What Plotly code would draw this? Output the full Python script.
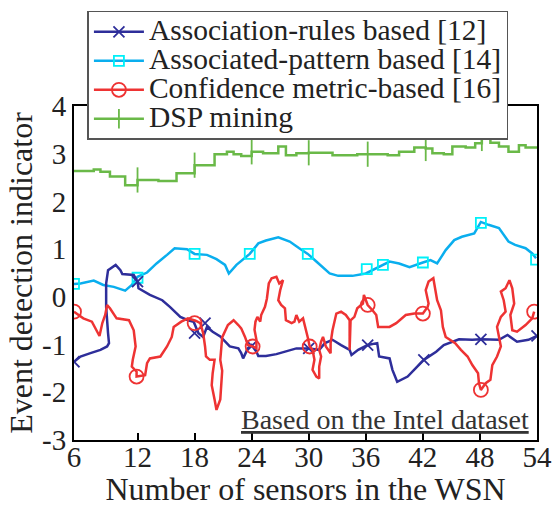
import plotly.graph_objects as go

# ---------------- data ----------------
X_TICK_VALS = [5.32, 12, 18, 24, 30, 36, 42, 48, 54]
X_TICK_TEXT = ["6", "12", "18", "24", "30", "36", "42", "48", "54"]
Y_TICK_VALS = [4, 3, 2, 1, 0, -1, -2, -3]
Y_TICK_TEXT = ["4", "3", "2", "1", "0", "-1", "-2", "-3"]

ASSOC_X = [5.32, 6.0, 7.05, 8.1, 8.8, 9.0, 8.9, 8.7, 8.7, 8.9, 9.7, 10.2, 10.4, 11.6, 12.0, 12.1,
           13.3, 14.6, 15.4, 16.5, 17.3, 17.9, 18.4, 18.9, 19.3, 19.9, 20.7, 21.2, 21.7, 22.6,
           22.9, 23.1, 23.6, 24.0, 24.5, 24.7, 25.5, 26.6, 27.6, 28.7, 30.0, 31.1, 31.7, 32.5,
           33.4, 34.3, 34.5, 35.2, 36.2, 37.2, 37.4, 38.5, 38.8, 39.3, 40.4, 41.1, 42.1, 43.4,
           44.2, 45.8, 47.2, 48.1, 50.0, 50.9, 51.9, 53.1, 54.0]
ASSOC_Y = [-1.36, -1.25, -1.18, -1.11, -1.04, -0.97, -0.76, -0.21, 0.28, 0.56, 0.67, 0.56, 0.48,
           0.46, 0.32, 0.18, 0.04, -0.07, -0.21, -0.42, -0.49, -0.52, -0.76, -0.84, -0.63, -0.73,
           -0.83, -0.94, -1.04, -1.08, -1.18, -1.29, -1.08, -1.01, -1.15, -1.24, -1.24, -1.20,
           -1.15, -1.08, -1.08, -1.11, -0.97, -0.90, -1.01, -1.11, -1.22, -1.11, -1.01, -0.97,
           -1.25, -1.29, -1.53, -1.78, -1.67, -1.53, -1.32, -1.15, -1.01, -0.89, -0.90, -0.89,
           -0.90, -0.80, -0.94, -0.90, -0.82]
ASSOC_MX = [5.32, 12.0, 18.0, 19.1, 24.0, 30.0, 36.2, 42.1, 48.1, 54.0]
ASSOC_MY = [-1.36, 0.32, -0.76, -0.55, -1.03, -1.08, -1.01, -1.32, -0.89, -0.82]

PATTERN_X = [5.32, 6.0, 7.4, 8.4, 9.5, 10.7, 11.4, 12.0, 13.0, 14.0, 15.1, 15.9, 17.2, 18.0, 19.3,
             20.3, 21.2, 21.6, 22.4, 23.3, 23.8, 24.7, 25.5, 26.8, 28.0, 29.0, 29.9, 30.8, 32.2,
             33.1, 34.6, 36.0, 37.8, 38.5, 39.5, 40.6, 42.0, 42.8, 43.5, 44.4, 45.3, 46.1, 47.4,
             48.1, 48.9, 50.0, 51.0, 51.7, 52.8, 53.5, 53.9]
PATTERN_Y = [0.27, 0.28, 0.34, 0.25, 0.21, 0.13, 0.25, 0.42, 0.51, 0.70, 0.88, 1.02, 1.00, 0.90,
             0.88, 0.79, 0.67, 0.49, 0.67, 0.83, 0.90, 1.12, 1.18, 1.25, 1.16, 1.02, 0.90, 0.74,
             0.49, 0.44, 0.44, 0.49, 0.67, 0.74, 0.70, 0.62, 0.72, 0.77, 0.70, 0.98, 1.19, 1.26,
             1.33, 1.57, 1.51, 1.44, 1.16, 1.09, 1.02, 0.91, 0.81]
PATTERN_MX = [5.32, 12.0, 18.0, 23.8, 29.9, 36.1, 37.8, 42.0, 48.1, 53.9]
PATTERN_MY = [0.27, 0.40, 0.90, 0.90, 0.90, 0.58, 0.67, 0.72, 1.55, 0.78]

CONF_X = [5.32, 6.3, 7.2, 7.7, 8.0, 8.3, 8.6, 8.8, 9.1, 9.8, 11.1, 11.6, 11.8, 11.5, 11.4, 11.9,
          11.9, 12.8, 13.0, 13.3, 14.4, 15.1, 15.6, 15.8, 16.6, 17.3, 18.1, 18.6, 18.9, 19.1,
          19.2, 19.6, 20.1, 19.9, 19.8, 20.1, 20.3, 20.7, 20.8, 20.9, 20.7, 20.8, 20.9, 21.5,
          22.1, 22.6, 22.9, 23.3, 23.6, 24.1, 24.5, 24.5, 24.3, 24.4, 24.6, 24.9, 25.0, 25.4,
          25.6, 25.8, 26.1, 26.6, 26.9, 27.3, 27.0, 26.8, 27.1, 27.5, 27.6, 28.2, 28.5, 28.7,
          29.0, 29.4, 29.6, 29.9, 30.1, 30.4, 30.6, 30.4, 30.8, 31.1, 31.1, 31.3, 31.1, 31.3,
          31.5, 31.8, 32.3, 32.3, 32.5, 32.7, 32.9, 33.4, 33.9, 34.3, 34.3, 34.4, 34.8, 35.1,
          35.7, 35.8, 36.2, 36.7, 37.1, 37.3, 38.5, 39.2, 40.2, 41.1, 42.0, 42.5, 42.6, 42.3,
          42.6, 43.1, 43.3, 43.5, 43.9, 44.1, 44.4, 44.9, 45.4, 46.0, 46.7, 47.2, 47.8, 47.9,
          48.1, 48.6, 49.1, 49.3, 49.8, 50.2, 50.0, 49.8, 50.2, 50.7, 50.5, 50.2, 50.7, 51.1,
          51.4, 51.6, 51.2, 51.4, 51.9, 52.8, 53.5, 53.7]
CONF_Y = [-0.31, -0.45, -0.52, -0.73, -0.82, -0.55, -0.38, -0.17, -0.24, -0.45, -0.49, -0.70,
          -1.04, -1.32, -1.46, -1.57, -1.67, -1.64, -1.39, -1.29, -1.25, -1.04, -0.84, -0.63,
          -0.52, -0.45, -0.50, -0.55, -0.76, -1.04, -1.25, -1.32, -1.32, -1.60, -1.85, -2.15,
          -2.37, -2.15, -1.80, -1.55, -1.32, -1.04, -0.85, -0.59, -0.49, -0.59, -0.66, -0.84,
          -1.01, -1.04, -1.08, -0.90, -0.69, -0.52, -0.42, -0.52, -0.38, -0.21, -0.04, 0.28,
          0.39, 0.42, 0.28, 0.35, 0.14, -0.07, -0.17, -0.24, -0.49, -0.55, -0.52, -0.38, -0.52,
          -0.45, -0.60, -0.85, -1.04, -1.11, -1.32, -1.53, -1.67, -1.71, -1.46, -1.25, -1.11,
          -0.94, -0.84, -1.04, -1.18, -0.97, -0.70, -0.49, -0.35, -0.31, -0.38, -0.49, -1.11,
          -0.49, -0.42, -0.24, -0.14, 0.04, -0.17, -0.28, -0.38, -0.63, -0.63, -0.55, -0.38,
          -0.35, -0.35, -0.21, -0.14, 0.14, 0.32, 0.39, 0.14, -0.07, -0.28, -0.63, -0.84, -0.90,
          -0.97, -1.11, -1.25, -1.43, -1.60, -1.81, -1.95, -1.81, -1.74, -1.43, -1.25, -1.04,
          -0.84, -0.63, -0.42, -0.31, -0.07, 0.11, 0.18, 0.35, 0.18, -0.14, -0.38, -0.70, -0.73,
          -0.59, -0.45, -0.31]
CONF_MX = [5.32, 11.9, 18.0, 24.1, 30.1, 36.2, 42.0, 48.1, 53.7]
CONF_MY = [-0.31, -1.67, -0.55, -1.04, -1.04, -0.17, -0.35, -1.95, -0.31]

DSP_X = [5.32, 7.4, 8.1, 9.1, 10.7, 12.0, 14.2, 16.1, 18.0, 20.1, 21.4, 22.1, 22.9, 24.0, 25.2,
         26.8, 27.6, 28.7, 30.0, 30.8, 32.5, 34.3, 35.1, 36.2, 38.3, 39.5, 41.1, 42.3, 43.0,
         44.2, 45.1, 46.5, 47.5, 48.2, 49.1, 50.0, 51.0, 52.1, 52.8, 54.0]
DSP_Y = [2.64, 2.67, 2.62, 2.52, 2.34, 2.45, 2.43, 2.59, 2.76, 2.99, 3.04, 2.99, 2.95, 3.04, 3.01,
         3.15, 2.97, 3.01, 3.02, 3.02, 2.97, 2.97, 2.99, 2.99, 2.97, 3.04, 3.13, 3.11, 3.01, 2.99,
         3.15, 3.13, 3.22, 3.32, 3.23, 3.15, 3.04, 3.18, 3.13, 3.15]
DSP_MX = [12.0, 18.0, 24.0, 30.0, 36.2, 42.3, 48.2]
DSP_MY = [2.45, 2.76, 3.04, 3.02, 2.99, 3.11, 3.32]

NAMES = ["Association-rules based [12]", "Associated-pattern based [14]",
         "Confidence metric-based [16]", "DSP mining"]

# ---------------- styles ----------------
BLUE, CYAN_LINE, CYAN_MK, RED, GREEN = "#2E2E9A", "#0AAEEE", "#00F0F8", "#EE3333", "#6AB948"
FONT = "Liberation Serif, Times New Roman, serif"
TXT = "#222222"

series = [
    dict(name=NAMES[0], x=ASSOC_X, y=ASSOC_Y, mx=ASSOC_MX, my=ASSOC_MY, color=BLUE, mcolor=BLUE,
         symbol="x-thin-open", msize=11, shape="linear"),
    dict(name=NAMES[1], x=PATTERN_X, y=PATTERN_Y, mx=PATTERN_MX, my=PATTERN_MY, color=CYAN_LINE,
         mcolor=CYAN_MK, symbol="square-open", msize=10, shape="linear"),
    dict(name=NAMES[2], x=CONF_X, y=CONF_Y, mx=CONF_MX, my=CONF_MY, color=RED, mcolor=RED,
         symbol="circle-open", msize=14, shape="linear"),
    dict(name=NAMES[3], x=DSP_X, y=DSP_Y, mx=DSP_MX, my=DSP_MY, color=GREEN, mcolor=GREEN,
         symbol="line-ns-open", msize=18, shape="hv"),
]

fig = go.Figure()

# legend entries (no data drawn)
for s in series:
    fig.add_trace(go.Scatter(
        x=[None], y=[None], mode="lines+markers",
        name='<span style="font-family:Liberation Serif;font-size:29.5px">' + s["name"] + "</span>",
        line=dict(color=s["color"], width=2.5),
        marker=dict(symbol=s["symbol"], size=min(s["msize"], 14), color=s["mcolor"],
                    line=dict(color=s["mcolor"], width=1.8)),
        showlegend=True,
    ))

# drawing order: green, cyan, blue, red
for i in [3, 1, 0, 2]:
    s = series[i]
    fig.add_trace(go.Scatter(x=s["x"], y=s["y"], mode="lines",
                             line=dict(color=s["color"], width=2.5, shape=s["shape"]),
                             showlegend=False, hoverinfo="skip"))
    fig.add_trace(go.Scatter(x=s["mx"], y=s["my"], mode="markers",
                             marker=dict(symbol=s["symbol"], size=s["msize"], color=s["mcolor"],
                                         line=dict(color=s["mcolor"], width=1.8)),
                             showlegend=False, hoverinfo="skip"))

fig.add_annotation(
    text="<u>Based on the Intel dataset</u>", xref="paper", yref="paper",
    x=0.987, y=0.06, xanchor="right", yanchor="middle", showarrow=False,
    font=dict(family=FONT, size=28, color="#333333"),
)

fig.update_layout(
    width=556, height=507,
    margin=dict(l=74, r=19, t=106, b=67, autoexpand=False),
    paper_bgcolor="white", plot_bgcolor="white",
    font=dict(family=FONT, color=TXT),
    legend=dict(
        x=0.029, y=1.285, xanchor="left", yanchor="top",
        bgcolor="white", bordercolor="#555555", borderwidth=1.5,
        font=dict(family=FONT, size=20, color=TXT),
        itemwidth=50, tracegroupgap=0,
    ),
    xaxis=dict(
        range=[5.32, 54.0], tickmode="array", tickvals=X_TICK_VALS, ticktext=X_TICK_TEXT,
        ticks="inside", ticklen=7, tickwidth=1.5, tickcolor="black", automargin=False,
        ticklabelstandoff=-10,
        showgrid=False, zeroline=False, showline=True, linecolor="black", linewidth=2, mirror=True,
        tickfont=dict(family=FONT, size=29, color=TXT),
        title=dict(text="Number of sensors in the WSN", font=dict(family=FONT, size=32, color=TXT), standoff=10),
    ),
    yaxis=dict(
        range=[-3, 4], tickmode="array", tickvals=Y_TICK_VALS, ticktext=Y_TICK_TEXT,
        ticks="", automargin=False,
        showgrid=False, zeroline=False, showline=True, linecolor="black", linewidth=2, mirror=True,
        tickfont=dict(family=FONT, size=29, color=TXT),
        title=dict(text="Event detection indicator", font=dict(family=FONT, size=32, color=TXT), standoff=0),
    ),
)

fig.write_html("out.html")
